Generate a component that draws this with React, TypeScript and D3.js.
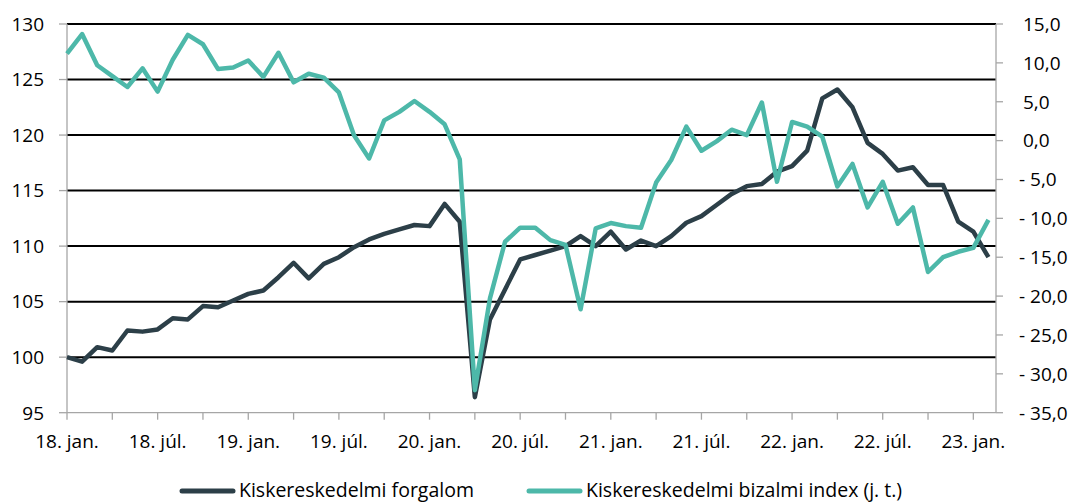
import React from "react";
import * as d3 from "d3";

// monthly data, 2018 jan - 2023 feb
const forgalom = [
  100.0, 99.6, 100.9, 100.6, 102.4, 102.3, 102.5, 103.5, 103.4, 104.6,
  104.5, 105.1, 105.7, 106.0, 107.2, 108.5, 107.1, 108.4, 109.0, 109.9,
  110.6, 111.1, 111.5, 111.9, 111.8, 113.8, 112.2, 96.4, 103.4, 106.1,
  108.8, 109.2, 109.6, 110.0, 110.9, 110.0, 111.3, 109.7, 110.5, 110.0,
  110.9, 112.1, 112.7, 113.7, 114.7, 115.4, 115.6, 116.7, 117.2, 118.6,
  123.3, 124.1, 122.5, 119.3, 118.3, 116.8, 117.1, 115.5, 115.5, 112.2,
  111.3, 109.0,
];

const bizalom = [
  11.2, 13.7, 9.7, 8.3, 6.9, 9.3, 6.3, 10.4, 13.6, 12.4,
  9.2, 9.4, 10.3, 8.2, 11.3, 7.5, 8.6, 8.1, 6.2, 0.7,
  -2.3, 2.6, 3.7, 5.1, 3.7, 2.1, -2.4, -32.1, -20.3, -13.0,
  -11.2, -11.2, -12.8, -13.4, -21.7, -11.3, -10.6, -11.0, -11.2, -5.4,
  -2.5, 1.8, -1.3, -0.1, 1.4, 0.7, 4.9, -5.3, 2.4, 1.8,
  0.5, -5.9, -3.0, -8.6, -5.3, -10.7, -8.6, -16.9, -15.0, -14.3,
  -13.8, -10.2,
];

const xLabels = [
  "18. jan.", "18. júl.", "19. jan.", "19. júl.", "20. jan.", "20. júl.",
  "21. jan.", "21. júl.", "22. jan.", "22. júl.", "23. jan.",
];
const leftTicks = [95, 100, 105, 110, 115, 120, 125, 130];
const rightTicks = [15, 10, 5, 0, -5, -10, -15, -20, -25, -30, -35];
const seriesNames = ["Kiskereskedelmi forgalom", "Kiskereskedelmi bizalmi index (j. t.)"];

const DARK = "#2c3f48";
const TEAL = "#4db8a9";
const AXIS = "#a6a6a6";
const FONT = "'Open Sans', sans-serif";

const W = 1078;
const H = 504;
const left = 67;
const right = 996;
const top = 24;
const bottom = 412.7;

export default function App() {
  const x = d3.scaleLinear().domain([0, 61.5]).range([left, right]);
  const yL = d3.scaleLinear().domain([95, 130]).range([bottom, top]);
  const yR = d3.scaleLinear().domain([-35, 15]).range([bottom, top]);

  const lineL = d3
    .line<number>()
    .x((_, i) => x(i))
    .y((d) => yL(d));
  const lineR = d3
    .line<number>()
    .x((_, i) => x(i))
    .y((d) => yR(d));

  // tick marks every 3 months
  const quarterTicks = d3.range(0, 61, 3);

  const fmtR = (v: number) =>
    v < 0 ? "- " + Math.abs(v).toFixed(1).replace(".", ",") : v.toFixed(1).replace(".", ",");

  return (
    <svg
      width={W}
      height={H}
      style={{ position: "absolute", left: 0, top: 0, background: "#fff" }}
      fontFamily={FONT}
    >
      {/* gridlines */}
      {leftTicks
        .filter((t) => t > 95)
        .map((t) => (
          <line key={t} x1={left} x2={right} y1={yL(t)} y2={yL(t)} stroke="#000" strokeWidth={2} />
        ))}

      {/* axes */}
      <line x1={left} x2={left} y1={top} y2={bottom} stroke={AXIS} strokeWidth={1.3} />
      <line x1={right} x2={right} y1={top} y2={bottom} stroke={AXIS} strokeWidth={1.3} />
      <line x1={left} x2={right} y1={bottom} y2={bottom} stroke={AXIS} strokeWidth={1.3} />

      {leftTicks.map((t) => (
        <g key={"l" + t}>
          <line x1={left - 8} x2={left} y1={yL(t)} y2={yL(t)} stroke={AXIS} strokeWidth={1.3} />
          <text x={44} y={yL(t)} dy="0.36em" textAnchor="end" fontSize={19} fill="#000">
            {t}
          </text>
        </g>
      ))}

      {rightTicks.map((t) => (
        <g key={"r" + t}>
          <line x1={right} x2={right + 7} y1={yR(t)} y2={yR(t)} stroke={AXIS} strokeWidth={1.3} />
          <text x={t < 0 ? 1019 : 1023} y={yR(t)} dy="0.36em" fontSize={19} fill="#000">
            {fmtR(t)}
          </text>
        </g>
      ))}

      {quarterTicks.map((m) => (
        <line key={"x" + m} x1={x(m)} x2={x(m)} y1={bottom} y2={bottom + 7} stroke={AXIS} strokeWidth={1.3} />
      ))}
      {xLabels.map((lab, i) => (
        <text key={lab} x={x(i * 6)} y={448} textAnchor="middle" fontSize={19} fill="#000">
          {lab}
        </text>
      ))}

      {/* series */}
      <path d={lineL(forgalom) ?? ""} fill="none" stroke={DARK} strokeWidth={4.5} strokeLinejoin="round" />
      <path d={lineR(bizalom) ?? ""} fill="none" stroke={TEAL} strokeWidth={4.5} strokeLinejoin="round" />

      {/* legend */}
      <line x1={182} x2={233} y1={491} y2={491} stroke={DARK} strokeWidth={5} strokeLinecap="round" />
      <text x={239} y={497} fontSize={19.5} fill="#000">
        {seriesNames[0]}
      </text>
      <line x1={529} x2={580} y1={491} y2={491} stroke={TEAL} strokeWidth={5} strokeLinecap="round" />
      <text x={586} y={497} fontSize={19.5} fill="#000">
        {seriesNames[1]}
      </text>
    </svg>
  );
}
